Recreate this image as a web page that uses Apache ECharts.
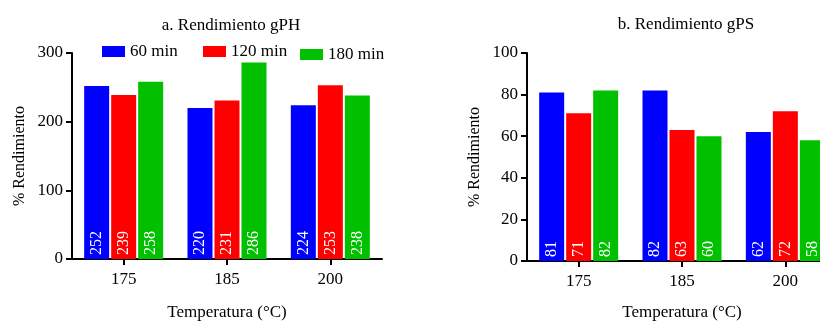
<!DOCTYPE html>
<html><head><meta charset="utf-8">
<script src="https://cdn.jsdelivr.net/npm/echarts@6/dist/echarts.min.js"></script>
<style>html,body{margin:0;padding:0;background:#fff}#c{width:820px;height:322px}</style>
</head><body><div id="c"></div>
<script>
const categories = ['175', '185', '200'];
const seriesNames = ['60 min', '120 min', '180 min'];
const colors = ['#0000FF', '#FF0000', '#00C000'];
const gph60 = [252, 220, 224];
const gph120 = [239, 231, 253];
const gph180 = [258, 286, 238];
const gps60 = [81, 82, 62];
const gps120 = [71, 63, 72];
const gps180 = [82, 60, 58];
const gphTicks = [0, 100, 200, 300];
const gpsTicks = [0, 20, 40, 60, 80, 100];

const FONT = 'Liberation Serif';
const chart = echarts.init(document.getElementById('c'));

function xAxis(gi, gap) {
  return {
    type: 'category', gridIndex: gi, data: categories,
    axisLine: {lineStyle: {color: '#000', width: 2}},
    axisTick: {show: true, alignWithLabel: true, length: 6, lineStyle: {color: '#000', width: 2}},
    axisLabel: {color: '#000', fontFamily: FONT, fontSize: 17, margin: 12},
    name: 'Temperatura (°C)', nameLocation: 'middle', nameGap: gap,
    nameTextStyle: {color: '#000', fontFamily: FONT, fontSize: 17}
  };
}
function yAxis(gi, ticks) {
  return {
    type: 'value', gridIndex: gi, min: ticks[0], max: ticks[ticks.length - 1],
    interval: ticks[1] - ticks[0],
    axisLine: {show: true, lineStyle: {color: '#000', width: 2}},
    axisTick: {show: true, length: 6, lineStyle: {color: '#000', width: 2}},
    splitLine: {show: false},
    axisLabel: {color: '#000', fontFamily: FONT, fontSize: 17, margin: 9},
    name: '% Rendimiento', nameLocation: 'middle', nameGap: 44,
    nameTextStyle: {color: '#000', fontFamily: FONT, fontSize: 16}
  };
}
function bar(name, data, i, gi) {
  return {
    type: 'bar', name: name, data: data, xAxisIndex: gi, yAxisIndex: gi,
    barWidth: 25, barGap: '8%',
    itemStyle: {color: colors[i]},
    label: {show: true, position: 'insideBottom', rotate: 90, align: 'left', verticalAlign: 'middle',
      distance: 4, color: '#fff', fontFamily: FONT, fontSize: 16},
    emphasis: {disabled: true}
  };
}
const legendBase = {itemWidth: 23, itemHeight: 11, icon: 'rect', itemGap: 10,
  textStyle: {color: '#000', fontFamily: FONT, fontSize: 17}};

chart.setOption({
  animation: false,
  title: [
    {text: 'a. Rendimiento gPH', left: 226, top: 12, textAlign: 'center',
      textStyle: {fontFamily: FONT, fontSize: 17, fontWeight: 'normal', color: '#000'}},
    {text: 'b. Rendimiento gPS', left: 681, top: 11, textAlign: 'center',
      textStyle: {fontFamily: FONT, fontSize: 17, fontWeight: 'normal', color: '#000'}}
  ],
  legend: [
    Object.assign({data: [seriesNames[0]], left: 97, top: 38}, legendBase),
    Object.assign({data: [seriesNames[1]], left: 198, top: 38}, legendBase),
    Object.assign({data: [seriesNames[2]], left: 295, top: 41}, legendBase)
  ],
  grid: [
    {left: 72, width: 310, top: 53, bottom: 63, outerBoundsMode: 'none', containLabel: false},
    {left: 527, width: 310, top: 53, bottom: 61, outerBoundsMode: 'none', containLabel: false}
  ],
  xAxis: [xAxis(0, 45), xAxis(1, 43)],
  yAxis: [yAxis(0, gphTicks), yAxis(1, gpsTicks)],
  series: [
    bar(seriesNames[0], gph60, 0, 0),
    bar(seriesNames[1], gph120, 1, 0),
    bar(seriesNames[2], gph180, 2, 0),
    bar(seriesNames[0], gps60, 0, 1),
    bar(seriesNames[1], gps120, 1, 1),
    bar(seriesNames[2], gps180, 2, 1)
  ]
});
</script></body></html>
